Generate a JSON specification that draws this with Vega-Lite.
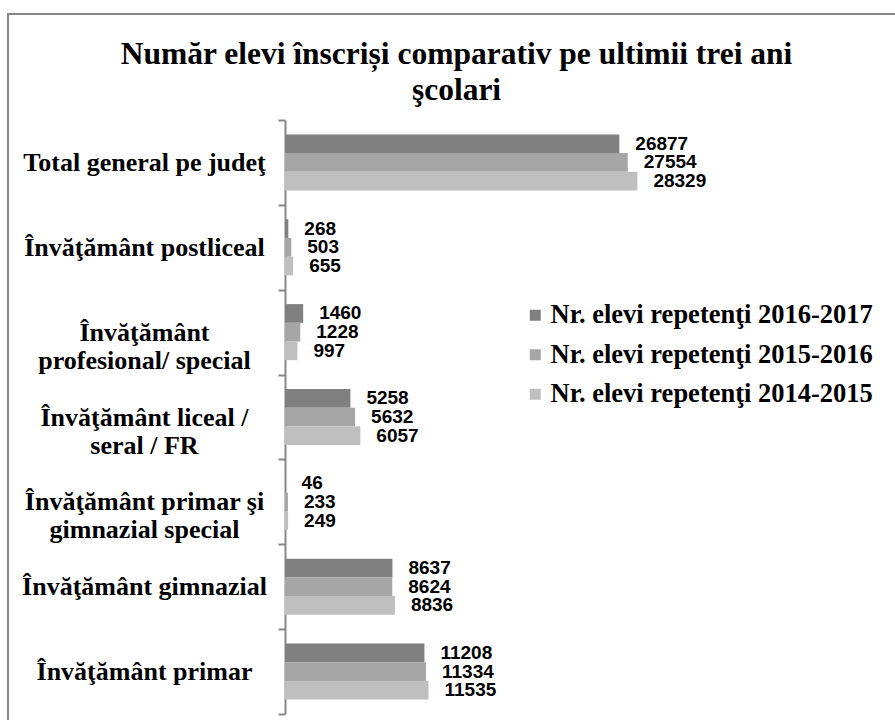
{
  "$schema": "https://vega.github.io/schema/vega-lite/v6.json",
  "autosize": {"type": "none"},
  "padding": {"left": 8, "top": 14, "right": -10, "bottom": -11},
  "width": 897,
  "height": 717,
  "background": "white",
  "config": {
    "view": {"stroke": "#878787", "strokeWidth": 2}
  },
  "title": {
    "text": ["Număr elevi înscriși comparativ pe ultimii trei ani", "şcolari"],
    "orient": "top",
    "anchor": "middle",
    "frame": "group",
    "offset": -105,
    "font": "Liberation Serif",
    "fontWeight": "bold",
    "fontSize": 31.5,
    "lineHeight": 36,
    "color": "#000000"
  },
  "data": {
    "values": [
      {"category": "Total general pe judeţ", "series": "Nr. elevi repetenţi 2016-2017", "value": 26877},
      {"category": "Total general pe judeţ", "series": "Nr. elevi repetenţi 2015-2016", "value": 27554},
      {"category": "Total general pe judeţ", "series": "Nr. elevi repetenţi 2014-2015", "value": 28329},
      {"category": "Învăţământ postliceal", "series": "Nr. elevi repetenţi 2016-2017", "value": 268},
      {"category": "Învăţământ postliceal", "series": "Nr. elevi repetenţi 2015-2016", "value": 503},
      {"category": "Învăţământ postliceal", "series": "Nr. elevi repetenţi 2014-2015", "value": 655},
      {"category": "Învăţământ|profesional/ special", "series": "Nr. elevi repetenţi 2016-2017", "value": 1460},
      {"category": "Învăţământ|profesional/ special", "series": "Nr. elevi repetenţi 2015-2016", "value": 1228},
      {"category": "Învăţământ|profesional/ special", "series": "Nr. elevi repetenţi 2014-2015", "value": 997},
      {"category": "Învăţământ liceal /|seral / FR", "series": "Nr. elevi repetenţi 2016-2017", "value": 5258},
      {"category": "Învăţământ liceal /|seral / FR", "series": "Nr. elevi repetenţi 2015-2016", "value": 5632},
      {"category": "Învăţământ liceal /|seral / FR", "series": "Nr. elevi repetenţi 2014-2015", "value": 6057},
      {"category": "Învăţământ primar şi|gimnazial special", "series": "Nr. elevi repetenţi 2016-2017", "value": 46},
      {"category": "Învăţământ primar şi|gimnazial special", "series": "Nr. elevi repetenţi 2015-2016", "value": 233},
      {"category": "Învăţământ primar şi|gimnazial special", "series": "Nr. elevi repetenţi 2014-2015", "value": 249},
      {"category": "Învăţământ gimnazial", "series": "Nr. elevi repetenţi 2016-2017", "value": 8637},
      {"category": "Învăţământ gimnazial", "series": "Nr. elevi repetenţi 2015-2016", "value": 8624},
      {"category": "Învăţământ gimnazial", "series": "Nr. elevi repetenţi 2014-2015", "value": 8836},
      {"category": "Învăţământ primar", "series": "Nr. elevi repetenţi 2016-2017", "value": 11208},
      {"category": "Învăţământ primar", "series": "Nr. elevi repetenţi 2015-2016", "value": 11334},
      {"category": "Învăţământ primar", "series": "Nr. elevi repetenţi 2014-2015", "value": 11535}
    ]
  },
  "encoding": {
    "y": {
      "field": "category",
      "type": "nominal",
      "sort": null,
      "title": null,
      "scale": {"range": [106, 700], "paddingInner": 0, "paddingOuter": 0},
      "axis": {
        "orient": "left",
        "offset": -277,
        "tickBand": "extent",
        "labelExpr": "split(datum.label, '|')",
        "labelAlign": "center",
        "labelBaseline": "middle",
        "labelPadding": 134,
        "labelFont": "Liberation Serif",
        "labelFontWeight": "bold",
        "labelFontSize": 26,
        "labelLineHeight": 28,
        "labelColor": "#000000",
        "labelOverlap": false,
        "labelBound": false,
        "labelLimit": 0,
        "domainColor": "#878787",
        "domainWidth": 2,
        "tickColor": "#878787",
        "tickWidth": 2,
        "tickSize": 7
      }
    },
    "yOffset": {
      "field": "series",
      "type": "nominal",
      "sort": ["Nr. elevi repetenţi 2016-2017", "Nr. elevi repetenţi 2015-2016", "Nr. elevi repetenţi 2014-2015"],
      "scale": {"paddingInner": 0, "paddingOuter": 0.77}
    },
    "x": {
      "field": "value",
      "type": "quantitative",
      "axis": null,
      "scale": {"domain": [0, 30000], "range": [277, 650.2], "nice": false, "zero": true}
    }
  },
  "layer": [
    {
      "mark": {"type": "bar"},
      "encoding": {
        "color": {
          "field": "series",
          "type": "nominal",
          "scale": {
            "domain": ["Nr. elevi repetenţi 2016-2017", "Nr. elevi repetenţi 2015-2016", "Nr. elevi repetenţi 2014-2015"],
            "range": ["#808080", "#a6a6a6", "#bfbfbf"]
          },
          "legend": {
            "title": null,
            "orient": "none",
            "legendX": 514,
            "legendY": 288,
            "padding": 0,
            "symbolType": "square",
            "symbolSize": 121,
            "symbolStrokeWidth": 0,
            "symbolOpacity": 1,
            "labelFont": "Liberation Serif",
            "labelFontWeight": "bold",
            "labelFontSize": 26.5,
            "labelColor": "#000000",
            "labelOffset": 2,
            "labelLimit": 0,
            "rowPadding": 12.5
          }
        }
      }
    },
    {
      "mark": {
        "type": "text",
        "align": "left",
        "baseline": "middle",
        "dx": 16,
        "font": "Liberation Sans",
        "fontWeight": "bold",
        "fontSize": 19,
        "color": "#000000"
      },
      "encoding": {
        "text": {"field": "value", "type": "quantitative", "format": "d"}
      }
    }
  ]
}
